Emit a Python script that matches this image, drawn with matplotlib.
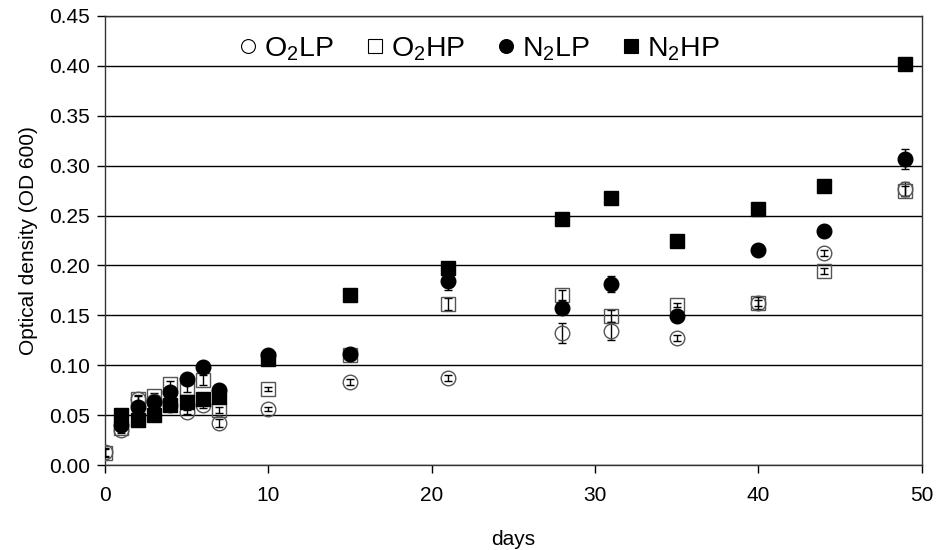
import matplotlib
matplotlib.use("Agg")
import matplotlib.pyplot as plt
import numpy as np

plt.rcParams["font.family"] = ["Liberation Sans", "DejaVu Sans"]
plt.rcParams["mathtext.fontset"] = "custom"
plt.rcParams["mathtext.rm"] = "Liberation Sans"
plt.rcParams["mathtext.it"] = "Liberation Sans"

nan = np.nan
days = [0, 1, 2, 3, 4, 5, 6, 7, 10, 15, 21, 28, 31, 35, 40, 44, 49]

o2lp = [0.013, 0.035, 0.066, 0.064, 0.060, 0.053, 0.060, 0.042, 0.056, 0.083, 0.087,
        0.132, 0.134, 0.127, 0.162, 0.212, 0.277]
o2hp = [0.012, 0.037, 0.066, 0.069, 0.081, 0.077, 0.085, 0.055, 0.076, 0.110, 0.161,
        0.170, 0.149, 0.160, 0.162, 0.194, 0.275]
n2lp = [nan, 0.040, 0.058, 0.063, 0.073, 0.086, 0.098, 0.075, 0.110, 0.111, 0.184,
        0.157, 0.181, 0.149, 0.215, 0.235, 0.307]
n2hp = [nan, 0.050, 0.045, 0.050, 0.060, 0.063, 0.066, 0.068, 0.106, 0.170, 0.197,
        0.247, 0.268, 0.224, 0.257, 0.280, 0.402]

o2lp_err = [0.004, 0.003, 0.003, 0.003, 0.003, 0.002, 0.003, 0.004, 0.002, 0.003, 0.003,
            0.010, 0.009, 0.003, 0.006, 0.003, 0.007]
o2hp_err = [0.004, 0.003, 0.004, 0.003, 0.003, 0.004, 0.005, 0.003, 0.002, 0.002, 0.006,
            0.005, 0.006, 0.002, 0.003, 0.003, 0.005]
n2lp_err = [nan, 0.003, 0.003, 0.003, 0.003, 0.002, 0.002, 0.003, 0.002, 0.002, 0.009,
            0.003, 0.008, 0.003, 0.002, 0.005, 0.010]
n2hp_err = [nan, 0.003, 0.003, 0.002, 0.002, 0.002, 0.002, 0.002, 0.002, 0.002, 0.003,
            0.004, 0.004, 0.002, 0.002, 0.004, 0.004]

labels = [r"O$_2$LP", r"O$_2$HP", r"N$_2$LP", r"N$_2$HP"]

fig = plt.figure(figsize=(9.37, 5.5), dpi=100)
ax = fig.add_axes([0.112, 0.1545, 0.8717, 0.8165])

series = [
    (o2lp, o2lp_err, "o", "none", 10.5),
    (o2hp, o2hp_err, "s", "none", 9.5),
    (n2lp, n2lp_err, "o", "black", 10.5),
    (n2hp, n2hp_err, "s", "black", 9.5),
]
handles = []
for (vals, err, mk, fc, ms), lab in zip(series, labels):
    ax.errorbar(days, vals, yerr=err, fmt="none", ecolor="black", elinewidth=1,
                capsize=3, capthick=1, zorder=3)
    h, = ax.plot(days, vals, linestyle="none", marker=mk, markersize=ms,
                 markerfacecolor=fc, markeredgecolor="black" if fc == "black" else "#555555",
                 markeredgewidth=1.0, zorder=4, label=lab)
    handles.append(h)

ax.set_xlim(0, 50)
ax.set_ylim(0, 0.45)
ax.set_xticks(np.arange(0, 51, 10))
ax.set_yticks(np.arange(0, 0.451, 0.05))
ax.yaxis.set_major_formatter(plt.FormatStrFormatter("%.2f"))
ax.yaxis.grid(True, color="black", linewidth=1.0)
ax.set_axisbelow(True)
for s in ax.spines.values():
    s.set_linewidth(1.0)
    s.set_color("#333333")
ax.tick_params(axis="both", direction="out", length=6, width=1, labelsize=15, pad=5)
ax.tick_params(axis="x", pad=9)
ax.set_xlabel("days", fontsize=15, labelpad=18)
ax.set_ylabel("Optical density (OD 600)", fontsize=15, labelpad=8)

leg_handles = []
for h in handles:
    lh, = ax.plot([], [], linestyle="none", marker=h.get_marker(), markersize=10,
                  markerfacecolor=h.get_markerfacecolor(), markeredgecolor="black",
                  markeredgewidth=0.8)
    leg_handles.append(lh)
ax.legend(leg_handles, labels, loc="upper center", bbox_to_anchor=(0.459, 0.995), ncol=4,
          frameon=False, fontsize=20.5, handlelength=0.6, handletextpad=0.25,
          columnspacing=1.15, borderaxespad=0.2)

fig.savefig("out.png", dpi=100)
